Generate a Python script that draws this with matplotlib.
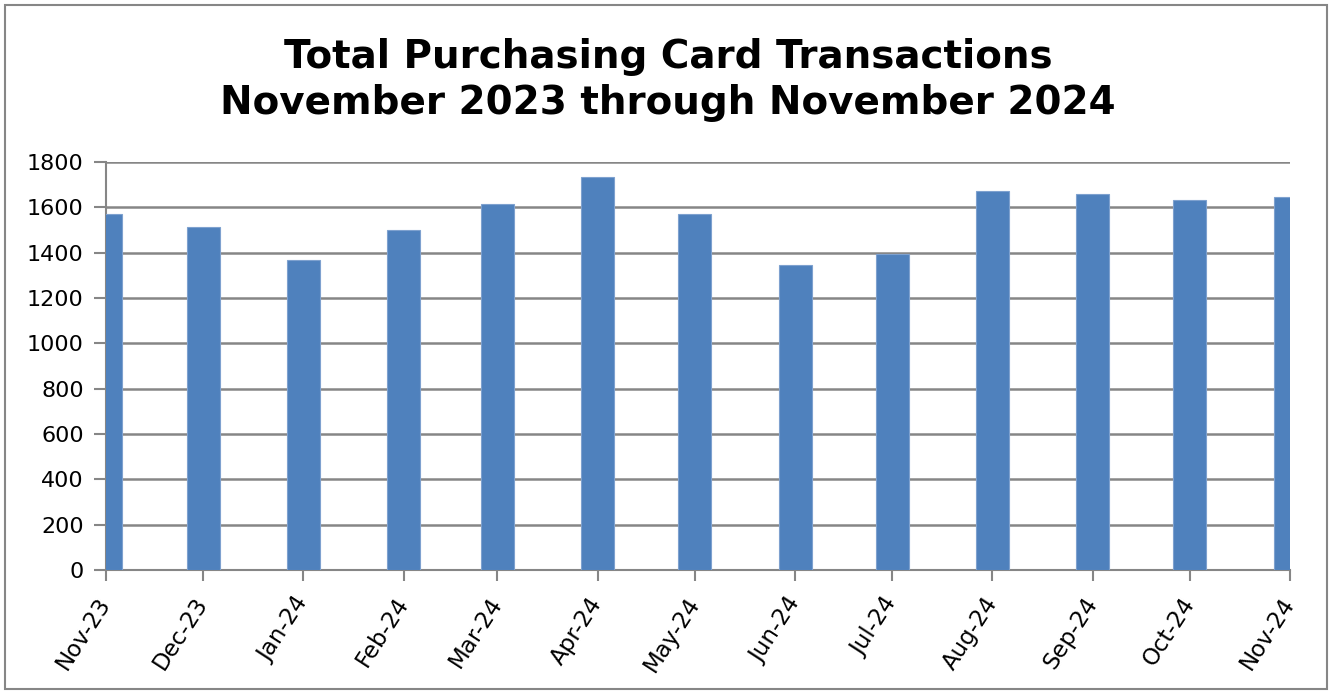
import matplotlib
matplotlib.use("Agg")
import matplotlib.pyplot as plt
from matplotlib.patches import Rectangle
import datetime as dt

months = ["2023-11-01", "2023-12-01", "2024-01-01", "2024-02-01", "2024-03-01",
          "2024-04-01", "2024-05-01", "2024-06-01", "2024-07-01", "2024-08-01",
          "2024-09-01", "2024-10-01", "2024-11-01"]
tick_labels = ["Nov-23", "Dec-23", "Jan-24", "Feb-24", "Mar-24", "Apr-24", "May-24",
               "Jun-24", "Jul-24", "Aug-24", "Sep-24", "Oct-24", "Nov-24"]
transactions = [1571, 1515, 1366, 1498, 1615, 1734, 1571, 1344, 1396, 1671, 1660, 1633, 1646]

title = "Total Purchasing Card Transactions\nNovember 2023 through November 2024"

dates = [dt.datetime.strptime(m, "%Y-%m-%d") for m in months]

plt.rcParams['font.family'] = ['DejaVu Sans']
fig = plt.figure(figsize=(13.32, 6.94), dpi=100)
fig.patch.set_facecolor("white")

# outer chart border
fig.patches.append(Rectangle((5/1332, 5/694), 1 - 10/1332, 1 - 10/694,
                             transform=fig.transFigure, fill=False,
                             edgecolor="#868686", linewidth=1.5))

ax = fig.add_axes([106/1332, (694-570)/694, (1290-106)/1332, (570-162)/694])
ax.bar(dates, transactions, width=10.2, color="#4F81BD", edgecolor="#7EA1CF",
       linewidth=0.8, zorder=3, align="center")

ax.set_xlim(dates[0], dates[-1])
ax.set_ylim(0, 1800)
ax.set_yticks(range(0, 1801, 200))
ax.yaxis.grid(True, color="#868686", linewidth=1.8, zorder=0)
ax.set_axisbelow(True)

ax.set_xticks(dates)
ax.set_xticklabels(tick_labels, rotation=57, ha="right", va="center",
                   rotation_mode="anchor", fontsize=16.5)
ax.tick_params(axis="x", length=8, width=1.5, color="#868686", pad=13)
ax.tick_params(axis="y", length=9, width=1.5, color="#868686", labelsize=16, pad=7)

for s in ["top", "right"]:
    ax.spines[s].set_visible(False)
for s in ["left", "bottom"]:
    ax.spines[s].set_color("#868686")
    ax.spines[s].set_linewidth(1.5)

fig.text(0.5015, 1 - 80/694, title, ha="center", va="center",
         fontsize=28, fontweight="bold", linespacing=1.3)

fig.savefig("out.png", dpi=100)
